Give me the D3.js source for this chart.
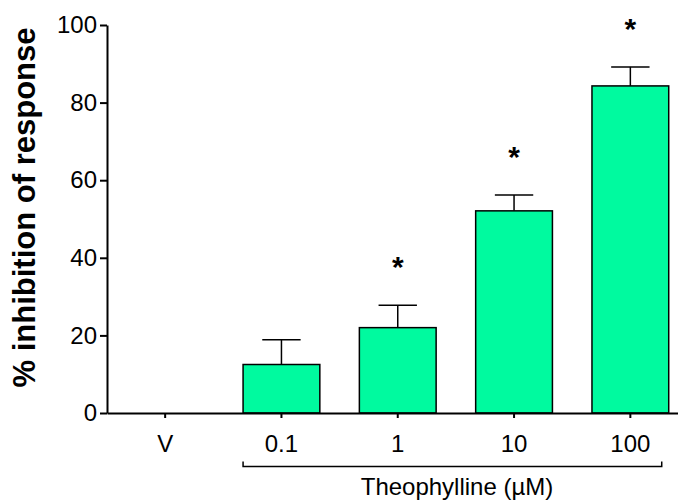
<!DOCTYPE html>
<html>
<head>
<meta charset="utf-8">
<script src="https://cdn.jsdelivr.net/npm/d3@7"></script>
<style>
  html, body { margin: 0; padding: 0; background: #fff; }
  svg { display: block; font-family: Arial, "Liberation Sans", sans-serif; }
</style>
</head>
<body>
<svg id="chart" width="678" height="500"></svg>
<script>
// Inhibition of response by theophylline
const categories = ["V", "0.1", "1", "10", "100"];
const meanValues = [0, 12.5, 22.0, 52.1, 84.3];
const semValues  = [0, 6.4, 5.8, 4.1, 4.9];
const significant = [false, false, true, true, true];
const yTicks = [0, 20, 40, 60, 80, 100];

const svg = d3.select("#chart");
const plotLeft = 107, plotTop = 25, plotBottom = 413;
const step = 116.3;
const fontFamily = "Arial, 'Liberation Sans', sans-serif";

const x = d3.scaleBand()
  .domain(categories)
  .range([plotLeft, plotLeft + step * categories.length])
  .paddingInner(0.34)
  .paddingOuter(0.17);

const y = d3.scaleLinear().domain([0, 100]).range([plotBottom, plotTop]);

// bars
svg.selectAll("rect.bar")
  .data(categories.filter((c, i) => meanValues[i] > 0))
  .join("rect")
  .attr("class", "bar")
  .attr("x", d => x(d))
  .attr("y", d => y(meanValues[categories.indexOf(d)]))
  .attr("width", x.bandwidth())
  .attr("height", d => plotBottom - y(meanValues[categories.indexOf(d)]))
  .attr("fill", "#00FA9F")
  .attr("stroke", "#000")
  .attr("stroke-width", 1.5);

// error bars (upper SEM)
const errG = svg.append("g").attr("stroke", "#000").attr("stroke-width", 1.5);
categories.forEach((c, i) => {
  if (semValues[i] <= 0) return;
  const cx = x(c) + x.bandwidth() / 2;
  const cap = x.bandwidth() / 4;
  errG.append("line")
    .attr("x1", cx).attr("x2", cx)
    .attr("y1", y(meanValues[i])).attr("y2", y(meanValues[i] + semValues[i]));
  errG.append("line")
    .attr("x1", cx - cap).attr("x2", cx + cap)
    .attr("y1", y(meanValues[i] + semValues[i])).attr("y2", y(meanValues[i] + semValues[i]));
});

// significance markers
categories.forEach((c, i) => {
  if (!significant[i]) return;
  const cx = x(c) + x.bandwidth() / 2;
  const topVal = meanValues[i] + semValues[i];
  svg.append("text")
    .attr("x", cx)
    .attr("y", y(topVal) - 28)
    .attr("text-anchor", "middle")
    .attr("font-size", 30)
    .attr("font-weight", "bold")
    .attr("fill", "#000")
    .text("*");
});

// y axis
const yAxis = svg.append("g")
  .attr("transform", `translate(${plotLeft},0)`)
  .call(d3.axisLeft(y).tickValues(yTicks).tickSize(7).tickSizeOuter(0).tickPadding(3));
yAxis.select(".domain").attr("stroke-width", 2);
yAxis.selectAll(".tick line").attr("stroke-width", 2);
yAxis.selectAll(".tick text").attr("font-size", 24).attr("fill", "#000")
  .attr("font-family", fontFamily);

// x axis
const xAxis = svg.append("g")
  .attr("transform", `translate(0,${plotBottom})`)
  .call(d3.axisBottom(x).tickSize(5).tickSizeOuter(0).tickPadding(17));
xAxis.select(".domain").attr("stroke-width", 2);
xAxis.selectAll(".tick line").attr("stroke-width", 2);
xAxis.selectAll(".tick text").attr("font-size", 24).attr("fill", "#000")
  .attr("font-family", fontFamily);

// bracket grouping the theophylline concentrations
const bx1 = x("0.1"), bx2 = x("100") + x.bandwidth() - 7, by = 466.5;
svg.append("path")
  .attr("d", `M${bx1},${by - 5}V${by}H${bx2}V${by - 5}`)
  .attr("fill", "none")
  .attr("stroke", "#000")
  .attr("stroke-width", 1.5);

svg.append("text")
  .attr("x", 457)
  .attr("y", 495)
  .attr("text-anchor", "middle")
  .attr("font-size", 24)
  .attr("fill", "#000")
  .text("Theophylline (µM)");

// y axis title
svg.append("text")
  .attr("transform", `translate(35,207.5) rotate(-90)`)
  .attr("text-anchor", "middle")
  .attr("font-size", 31)
  .attr("font-weight", "bold")
  .attr("fill", "#000")
  .text("% inhibition of response");
</script>
</body>
</html>
